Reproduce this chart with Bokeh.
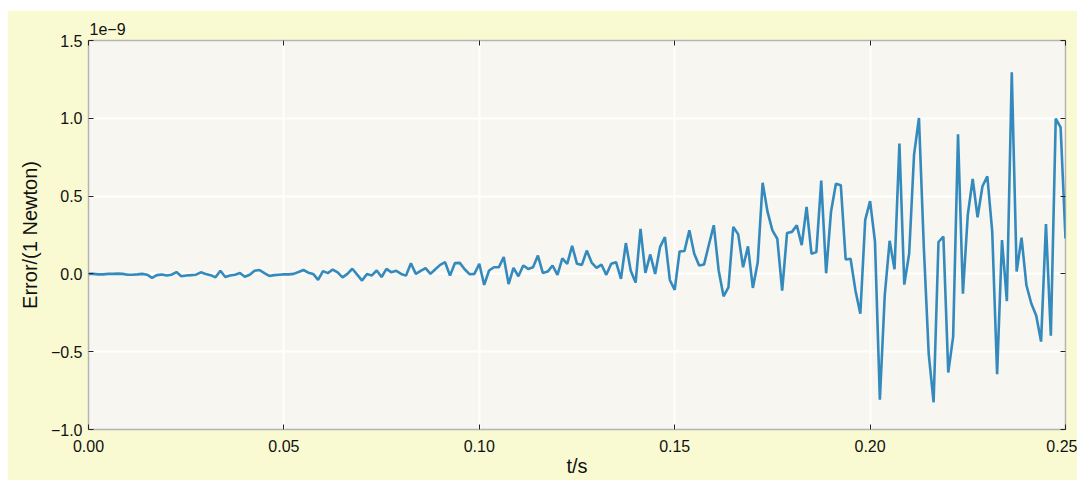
from bokeh.plotting import figure
from bokeh.models import LinearAxis, Range1d, FixedTicker, CustomJSTickFormatter, ColumnDataSource
from bokeh.embed import file_html
from bokeh.resources import INLINE

# ---- data (error in units of 1e-9 N, sampled every 0.00125 s) ----
dt = 0.00125
error_e9 = [
    0.0, 0.0, -0.003, -0.003, 0.0, 0.0, 0.002, 0.0, -0.005, -0.005,
    -0.003, 0.0, -0.005, -0.025, -0.008, -0.004, -0.01, -0.005, 0.012, -0.015,
    -0.01, -0.008, -0.005, 0.01, 0.0, -0.008, -0.022, 0.02, -0.02, -0.01,
    -0.005, 0.006, -0.018, -0.005, 0.02, 0.025, 0.005, -0.013, -0.008, -0.005,
    -0.003, -0.003, 0.0, 0.012, 0.025, 0.008, 0.0, -0.038, 0.018, 0.005,
    0.028, 0.01, -0.022, 0.0, 0.033, -0.005, -0.043, 0.0, -0.01, 0.022,
    -0.02, 0.032, 0.01, 0.02, 0.0, -0.011, 0.069, 0.0, 0.02, 0.037,
    0.0, 0.03, 0.058, 0.075, -0.011, 0.069, 0.071, 0.03, -0.002, 0.0,
    0.065, -0.071, 0.022, 0.043, 0.043, 0.108, -0.065, 0.039, -0.015, 0.054,
    0.032, 0.043, 0.118, 0.006, 0.015, 0.054, -0.006, 0.1, 0.065, 0.18,
    0.065, 0.058, 0.15, 0.073, 0.039, 0.06, -0.006, 0.065, 0.075, -0.032,
    0.198, 0.02, -0.056, 0.29, 0.006, 0.125, 0.0, 0.172, 0.237, -0.039,
    -0.103, 0.144, 0.147, 0.28, 0.13, 0.054, 0.06, 0.187, 0.313, 0.022,
    -0.144, -0.086, 0.302, 0.254, 0.043, 0.177, -0.09, 0.075, 0.586, 0.4,
    0.28, 0.226, -0.108, 0.263, 0.27, 0.313, 0.185, 0.43, 0.13, 0.14,
    0.6, 0.004, 0.4, 0.58, 0.57, 0.093, 0.097, -0.106, -0.256, 0.347,
    0.468, 0.207, -0.808, -0.138, 0.213, 0.03, 0.838, -0.069, 0.131, 0.767,
    1.002, 0.17, -0.515, -0.825, 0.205, 0.24, -0.634, -0.403, 0.897, -0.127,
    0.38, 0.61, 0.364, 0.563, 0.627, 0.272, -0.644, 0.218, -0.175, 1.295,
    0.015, 0.233, -0.073, -0.19, -0.267, -0.435, 0.321, -0.397, 0.998, 0.942,
    0.228,
]
t_s = [i * dt for i in range(len(error_e9))]

x_ticks = [0.0, 0.05, 0.10, 0.15, 0.20, 0.25]
y_ticks = [-1.0, -0.5, 0.0, 0.5, 1.0, 1.5]
x_label = "t/s"
y_label = "Error/(1 Newton)"
offset_text = "1e\u22129"

FONT = "Liberation Sans"
TICK_SIZE = "16px"
LABEL_SIZE = "20px"

p = figure(width=1070, height=470, output_backend="svg", toolbar_location=None,
           x_range=Range1d(0, 0.25), y_range=Range1d(-1.0, 1.5),
           min_border_left=81, min_border_right=12, min_border_top=30, min_border_bottom=51,
           background_fill_color="#f7f6f0", border_fill_color="#fafad2",
           outline_line_color="#b4b4b4", outline_line_width=1.5,
           title=offset_text)
p.margin = (10, 7, 6, 7)

p.title.align = "left"
p.title.text_font = FONT
p.title.text_font_size = TICK_SIZE
p.title.text_font_style = "normal"
p.title.text_color = "#111111"
p.title.offset = 1
p.title.standoff = 11

src = ColumnDataSource(dict(t=t_s, err=error_e9))
p.line("t", "err", source=src, line_color="#348ABD", line_width=2.6)

xfmt = CustomJSTickFormatter(code="return tick.toFixed(2);")
yfmt = CustomJSTickFormatter(code="return (tick < 0 ? '\\u2212' : '') + Math.abs(tick).toFixed(1);")

bottom = p.below[0]
left = p.left[0]
bottom.ticker = FixedTicker(ticks=x_ticks)
bottom.formatter = xfmt
bottom.axis_label = x_label
left.ticker = FixedTicker(ticks=y_ticks)
left.formatter = yfmt
left.axis_label = y_label

# extra tick-only axes on the top and right
top = LinearAxis(ticker=FixedTicker(ticks=x_ticks), major_label_text_font_size="0px",
                 major_label_text_color=None, major_label_standoff=0)
right = LinearAxis(ticker=FixedTicker(ticks=y_ticks), major_label_text_font_size="0px",
                   major_label_text_color=None, major_label_standoff=0)
p.add_layout(top, "above")
p.add_layout(right, "right")

for ax in (bottom, left, top, right):
    ax.axis_line_color = None
    ax.major_tick_in = 5
    ax.major_tick_out = 0
    ax.major_tick_line_color = "#222222"
    ax.major_tick_line_width = 1
    ax.minor_tick_line_color = None

for ax in (bottom, left):
    ax.major_label_text_font = FONT
    ax.major_label_text_font_size = TICK_SIZE
    ax.major_label_text_color = "#111111"
    ax.axis_label_text_font = FONT
    ax.axis_label_text_font_size = LABEL_SIZE
    ax.axis_label_text_font_style = "normal"
    ax.axis_label_text_color = "#111111"

bottom.major_label_standoff = 10
bottom.axis_label_standoff = 0
left.major_label_standoff = 6
left.axis_label_standoff = 7

p.xgrid.ticker = FixedTicker(ticks=x_ticks)
p.ygrid.ticker = FixedTicker(ticks=y_ticks)
p.grid.grid_line_color = "white"
p.grid.grid_line_width = 2

open("out.html", "w").write(file_html(p, INLINE))
